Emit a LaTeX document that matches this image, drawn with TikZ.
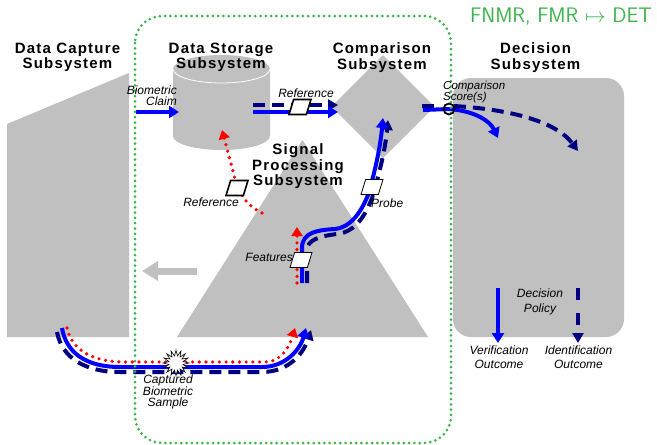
\documentclass[tikz,border=0pt]{standalone}
\usepackage{fontspec}
\setmainfont{Liberation Sans}
\newfontfamily\ttlfont{Liberation Sans}[LetterSpace=8]
\usetikzlibrary{arrows.meta,shapes.geometric}
\definecolor{gry}{RGB}{192,192,192}
\definecolor{vblue}{RGB}{0,0,255}
\definecolor{inavy}{RGB}{0,0,128}
\definecolor{ered}{RGB}{255,0,0}
\definecolor{grn}{RGB}{60,180,75}
\begin{document}
\begin{tikzpicture}[x=1pt,y=-1pt,
  title/.style={font=\ttlfont\bfseries\fontsize{15}{15.5}\selectfont, align=center, inner sep=0pt},
  lbl/.style={font=\itshape\fontsize{12}{#1}\selectfont, inner sep=0pt},
  lbl/.default=14.5,
  verif/.style={draw=vblue, line width=4pt, -{Triangle[length=10pt,width=12pt]}},
  ident/.style={draw=inavy, line width=4pt, dash pattern=on 12pt off 7pt, -{Triangle[length=10pt,width=11pt]}},
  enrol/.style={draw=ered, line width=3.6pt, line cap=round, dash pattern=on 0pt off 6.7pt, -{Triangle[length=9pt,width=11pt]}},
  para/.style={trapezium, trapezium left angle=70, trapezium right angle=110, trapezium stretches=true,
    draw=black, fill=white, line width=1.6pt, minimum width=22pt, minimum height=15pt, inner sep=1pt},
  thinpara/.style={para, line width=0.8pt},
  subsys/.style={fill=gry}
]
\useasboundingbox (0,0) rectangle (657,445);

% subsystem shapes
\fill[subsys] (7,124) -- (129,73) -- (129,337) -- (7,337) -- cycle;
\fill[subsys] (173,69) -- (173,136) arc[start angle=180,end angle=360,x radius=48.5pt,y radius=14pt]
  -- (270,69) arc[start angle=0,end angle=180,x radius=48.5pt,y radius=14pt] -- cycle;
\draw[white, line width=0.8pt] (173,69) arc[start angle=180,end angle=360,x radius=48.5pt,y radius=14pt];
\fill[subsys] (383,55) -- (434.5,106.5) -- (383,158) -- (331.5,106.5) -- cycle;
\fill[subsys] (177,337) -- (302.5,140) -- (428,337) -- cycle;
\fill[subsys, rounded corners=18pt] (453,78) rectangle (624,337);

% grey arrow
\coordinate (gaS) at (197,271);
\coordinate (gaE) at (142,271);
\draw[gry, line width=7pt, -{Triangle[length=16pt,width=19pt]}] (gaS) -- (gaE);

% coordinates
\coordinate (claimS) at (136,112);
\coordinate (claimE) at (179,112);
\coordinate (r1vS) at (253,112);
\coordinate (r1vE) at (338,112);
\coordinate (r1iS) at (253,105);
\coordinate (r1iE) at (338,105);
\coordinate (r2S) at (262,213);
\coordinate (r2E) at (222,130);
\coordinate (sc) at (449,109);
\coordinate (cvS) at (423,110);
\coordinate (ciS) at (422,105.5);
\coordinate (ciE) at (434,105.5);
\coordinate (vEnd) at (498,138);
\coordinate (iEnd) at (578,151);
\coordinate (verS) at (498,288);
\coordinate (verE) at (498,343);
\coordinate (idS) at (578,288);
\coordinate (idE) at (578,343);
\coordinate (fvS) at (302,283);
\coordinate (fvE) at (383,118);
\coordinate (fiS) at (307,283);
\coordinate (fiE) at (388,120);
\coordinate (frS) at (297,283);
\coordinate (frE) at (297,227);
\coordinate (bvS) at (62,328);
\coordinate (bvE) at (306,328);
\coordinate (biS) at (57,332);
\coordinate (biE) at (311,330);
\coordinate (brS) at (67,328);
\coordinate (brE) at (295,328);

% flows
\draw[verif] (claimS) -- (claimE);
\draw[ident] (r1iS) -- (r1iE);
\draw[verif] (r1vS) -- (r1vE);
\draw[enrol] (r2S) .. controls (246,205) and (238,193) .. (234,175) -- (r2E);

\draw[ident, dash pattern=on 12pt off 20pt, -] (ciS) -- (ciE);
\draw[verif, -] (cvS) -- (sc);
\draw[verif] (sc) .. controls (475,111) and (490,121) .. (vEnd);
\draw[ident] (sc) ++(5,-3) .. controls (505,109) and (555,120) .. (iEnd);

\draw[verif] (verS) -- (verE);
\draw[ident, dash pattern=on 12pt off 13pt] (idS) -- (idE);

\draw[enrol] (frS) -- (frE);
\draw[ident] (fiS) -- (307,250) .. controls (307,240) and (320,236) .. (337,234)
  .. controls (356,232) and (366,214) .. (372,198) .. controls (378,178) and (385,152) .. (fiE);
\draw[verif] (fvS) -- (302,248) .. controls (302,232) and (318,230) .. (335,229)
  .. controls (352,227) and (362,210) .. (368,195) .. controls (374,175) and (380,150) .. (fvE);

\draw[ident] (biS) .. controls (62,358) and (85,372) .. (120,372) -- (262,372) .. controls (290,372) and (304,352) .. (biE);
\draw[verif] (bvS) .. controls (66,352) and (85,367) .. (120,367) -- (262,367) .. controls (285,367) and (300,350) .. (bvE);
\draw[enrol] (brS) .. controls (72,350) and (92,362) .. (125,362) -- (265,362) .. controls (282,362) and (290,345) .. (brE);

% enclosure
\draw[grn, line width=3pt, line cap=round, dash pattern=on 0pt off 5.3pt, rounded corners=27pt] (135,16) rectangle (451,443);

% markers
\node[circle, draw=black, line width=1.8pt, minimum size=11pt, inner sep=0pt] (score) at (sc) {};
\node[para] (ref1) at (300,107) {};
\node[para] (ref2) at (237,188) {};
\node[thinpara] (feat) at (301,260) {};
\node[thinpara] (probe) at (372,187) {};
\node[star, star points=16, star point ratio=1.8, draw=black, fill=white, line width=0.6pt, minimum size=26pt, inner sep=0pt] (burst) at (176,363) {};

% titles
\node[title] (capT) at (67.5,57.5) {Data Capture\\Subsystem};
\node[title] (storT) at (221,57.5) {Data Storage\\Subsystem};
\node[title] (compT) at (382,57.5) {Comparison\\Subsystem};
\node[title] (decT) at (535.5,57.5) {Decision\\Subsystem};
\node[title] (spT) at (298,166.5) {Signal\\Processing\\Subsystem};
\node[font=\sffamily\fontsize{21}{24}\selectfont, text=grn, anchor=base east, inner sep=0pt] (det) at (652,22.5) {FNMR, FMR $\mapsto$ DET};

% labels
\node[lbl=11, align=right, anchor=east] (claimL) at (177,96) {Biometric\\Claim};
\node[lbl] (ref1L) at (306,93) {Reference};
\node[lbl] (ref2L) at (211,202) {Reference};
\node[lbl, anchor=east] (featL) at (293,257) {Features};
\node[lbl, anchor=west] (probeL) at (371,203) {Probe};
\node[lbl=10.5, align=left, anchor=west, font=\itshape\fontsize{11.5}{10.5}\selectfont] (scoreL) at (443,92) {Comparison\\Score(s)};
\node[lbl, align=center] (polL) at (540,302) {Decision\\Policy};
\node[lbl, align=center] (verL) at (499,357) {Verification\\Outcome};
\node[lbl, align=center] (idL) at (578.5,357) {Identification\\Outcome};
\node[lbl=10.5, align=center] (capL) at (168,392) {Captured\\Biometric\\Sample};
\end{tikzpicture}
\end{document}
